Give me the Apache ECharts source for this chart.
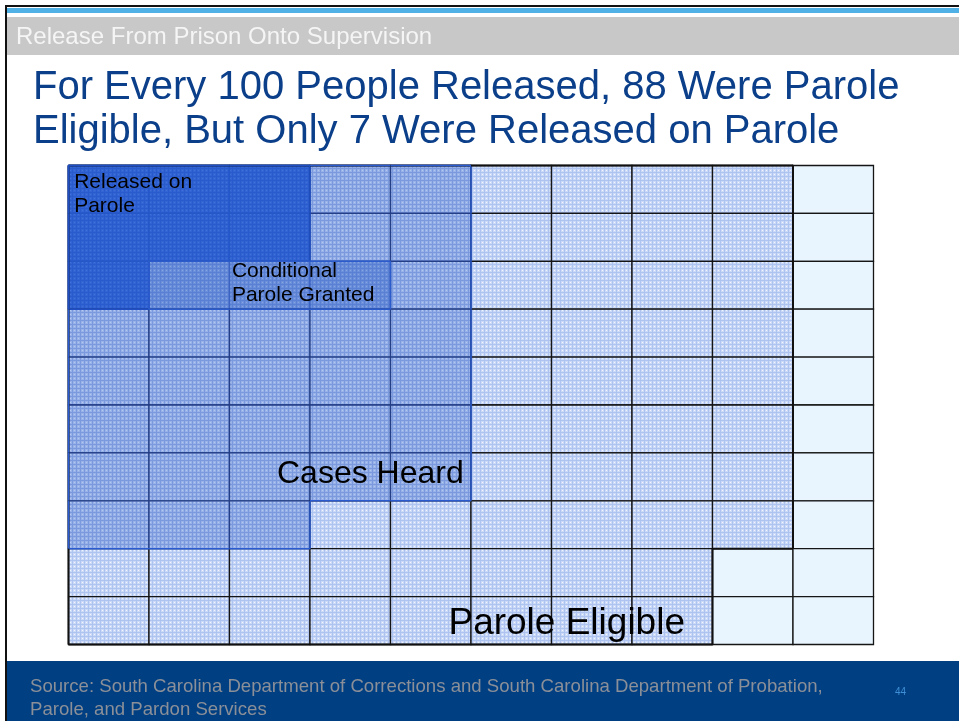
<!DOCTYPE html>
<html><head><meta charset="utf-8">
<script src="https://cdn.jsdelivr.net/npm/echarts@6.0.0/dist/echarts.min.js"></script>
<style>html,body{margin:0;padding:0;background:#fff}#c{width:959px;height:721px}</style>
</head><body><div id="c"></div>
<script>
// ---------- data ----------
const sectionTitle = 'Release From Prison Onto Supervision';
const titleLines = ['For Every 100 People Released, 88 Were Parole', 'Eligible, But Only 7 Were Released on Parole'];
const sourceLines = ['Source: South Carolina Department of Corrections and South Carolina Department of Probation,', 'Parole, and Pardon Services'];
const pageNumber = '44';
// category codes: 0 not eligible, 1 parole eligible, 2 cases heard, 3 conditional parole granted, 4 released on parole
const categories = ['Not Parole Eligible', 'Parole Eligible', 'Cases Heard', 'Conditional Parole Granted', 'Released on Parole'];
const categoryLabels = ['', 'Parole Eligible', 'Cases Heard', 'Conditional\nParole Granted', 'Released on\nParole'];
const cellGrid = [
  [4, 4, 4, 2, 2, 1, 1, 1, 1, 0],
  [4, 4, 4, 2, 2, 1, 1, 1, 1, 0],
  [4, 3, 3, 3, 2, 1, 1, 1, 1, 0],
  [2, 2, 2, 2, 2, 1, 1, 1, 1, 0],
  [2, 2, 2, 2, 2, 1, 1, 1, 1, 0],
  [2, 2, 2, 2, 2, 1, 1, 1, 1, 0],
  [2, 2, 2, 2, 2, 1, 1, 1, 1, 0],
  [2, 2, 2, 1, 1, 1, 1, 1, 1, 0],
  [1, 1, 1, 1, 1, 1, 1, 1, 0, 0],
  [1, 1, 1, 1, 1, 1, 1, 1, 0, 0]
];

// ---------- styles ----------
function makePattern(base, line, dot) {
  const cv = document.createElement('canvas');
  cv.width = 4; cv.height = 4;
  const g = cv.getContext('2d');
  g.fillStyle = base; g.fillRect(0, 0, 4, 4);
  g.fillStyle = line; g.fillRect(0, 0, 4, 1); g.fillRect(0, 0, 1, 4);
  if (dot) { g.fillStyle = dot; g.fillRect(2, 2, 1, 1); }
  return { image: cv, repeat: 'repeat' };
}
const fills = [
  '#e9f5fe',
  makePattern('#cbdaf6', '#aec3ef', '#f0f5fd'),
  makePattern('#98b1e9', '#7b9ade', '#b6c9f0'),
  makePattern('#6b8fdb', '#5a80d4', '#88a4e2'),
  makePattern('#3364d3', '#2a5bcc', '#4270d6')
];
const strokes = ['#151515', '#151515', '#253f86', '#3b63c2', '#2557c8'];

const cells = [];
cellGrid.forEach((row, r) => row.forEach((k, c) => cells.push([c, r, k])));

const inGroup = [
  k => k >= 1,
  k => k >= 2,
  k => k === 3,
  k => k === 4
];
const outlineStyle = [
  { color: '#111111', width: 2 },
  { color: '#2a5bd0', width: 1.6 },
  { color: '#2c5ccc', width: 1.6 },
  { color: '#1f4fc2', width: 1.6 }
];
function catAt(c, r) {
  if (r < 0 || r >= cellGrid.length || c < 0 || c >= cellGrid[0].length) return -1;
  return cellGrid[r][c];
}

const chart = echarts.init(document.getElementById('c'), null, { renderer: 'canvas' });
const FONT = '"Liberation Sans", Arial, Helvetica, sans-serif';

const labelItems = [
  { value: [0.07, 0.10, 4], size: 21, lh: 24, va: 'top' },
  { value: [2.03, 1.96, 3], size: 21, lh: 24, va: 'top' },
  { value: [2.59, 6.44, 2], size: 32, lh: 36, va: 'middle' },
  { value: [4.72, 9.56, 1], size: 37, lh: 40, va: 'middle' }
];

const option = {
  backgroundColor: '#ffffff',
  animation: false,
  title: {
    text: titleLines.join('\n'),
    left: 28, top: 61,
    textStyle: { color: '#0b3f8a', fontSize: 40, fontWeight: 'normal', fontFamily: FONT, lineHeight: 44 }
  },
  grid: { left: 68.5, top: 165.5, width: 805, height: 479 },
  xAxis: { type: 'value', min: 0, max: 10, show: false },
  yAxis: { type: 'value', min: 0, max: 10, inverse: true, show: false },
  graphic: [
    { type: 'rect', z: -10, shape: { x: 6, y: 6, width: 960, height: 720 }, style: { fill: '#fff', stroke: '#111', lineWidth: 2 } },
    { type: 'rect', shape: { x: 7, y: 8, width: 952, height: 5 }, style: { fill: '#4fb1e6' } },
    { type: 'rect', shape: { x: 7, y: 17, width: 952, height: 38 }, style: { fill: '#c8c8c8' } },
    { type: 'text', x: 16, y: 37, style: { text: sectionTitle, fill: '#f5f5f5', fontSize: 24, fontFamily: FONT, textVerticalAlign: 'middle' } },
    { type: 'rect', shape: { x: 7, y: 661, width: 952, height: 60 }, style: { fill: '#003f82' } },
    { type: 'text', x: 30, y: 687, style: { text: sourceLines[0], fill: '#8a8f98', fontSize: 18.6, fontFamily: FONT, textVerticalAlign: 'middle' } },
    { type: 'text', x: 30, y: 710, style: { text: sourceLines[1], fill: '#8a8f98', fontSize: 18.6, fontFamily: FONT, textVerticalAlign: 'middle' } },
    { type: 'text', x: 895, y: 692, style: { text: pageNumber, fill: '#3f8fd6', fontSize: 10, fontFamily: FONT, textVerticalAlign: 'middle' } }
  ],
  series: [
    {
      type: 'custom',
      name: 'cells',
      data: cells,
      encode: { x: 0, y: 1 },
      z: 2,
      renderItem: function (params, api) {
        const c = api.value(0), r = api.value(1), k = api.value(2);
        const p0 = api.coord([c, r]), p1 = api.coord([c + 1, r + 1]);
        return {
          type: 'rect',
          shape: { x: Math.min(p0[0], p1[0]), y: Math.min(p0[1], p1[1]), width: Math.abs(p1[0] - p0[0]), height: Math.abs(p1[1] - p0[1]) },
          style: { fill: fills[k], stroke: strokes[k], lineWidth: 1.3 }
        };
      }
    },
    {
      type: 'custom',
      name: 'outlines',
      data: cells,
      encode: { x: 0, y: 1 },
      z: 3,
      silent: true,
      renderItem: function (params, api) {
        const c = api.value(0), r = api.value(1), k = api.value(2);
        const children = [];
        const sides = [
          [0, -1, [c, r], [c + 1, r]],
          [0, 1, [c, r + 1], [c + 1, r + 1]],
          [-1, 0, [c, r], [c, r + 1]],
          [1, 0, [c + 1, r], [c + 1, r + 1]]
        ];
        inGroup.forEach((test, gi) => {
          if (!test(k)) return;
          sides.forEach(s => {
            const nk = catAt(c + s[0], r + s[1]);
            if (nk >= 0 && test(nk)) return;
            const a = api.coord(s[2]), b = api.coord(s[3]);
            children.push({ type: 'line', shape: { x1: a[0], y1: a[1], x2: b[0], y2: b[1] }, style: { stroke: outlineStyle[gi].color, lineWidth: outlineStyle[gi].width } });
          });
        });
        return { type: 'group', children: children };
      }
    },
    {
      type: 'custom',
      name: 'labels',
      encode: { x: 0, y: 1 },
      z: 4,
      silent: true,
      data: labelItems,
      renderItem: function (params, api) {
        const d = labelItems[params.dataIndex];
        const p = api.coord([api.value(0), api.value(1)]);
        return {
          type: 'text', x: p[0], y: p[1],
          style: { text: categoryLabels[api.value(2)], fill: '#000', fontSize: d.size, lineHeight: d.lh, fontFamily: FONT, textAlign: 'left', textVerticalAlign: d.va }
        };
      }
    }
  ]
};
chart.setOption(option);
</script>
</body></html>
